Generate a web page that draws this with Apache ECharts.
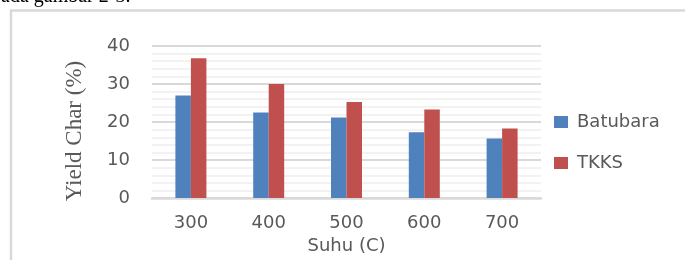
<!DOCTYPE html>
<html lang="id">
<head>
    <meta charset="UTF-8">
    <title>Yield Char</title>
    <script src="https://cdn.jsdelivr.net/npm/echarts@6/dist/echarts.min.js"></script>
    <style>
        html, body { margin: 0; padding: 0; background: #fff; }
        #chart { width: 685px; height: 260px; }
    </style>
</head>
<body>
    <div id="chart"></div>
    <script>
        // data
        var suhu = ['300', '400', '500', '600', '700'];
        var batubara = [27.0, 22.5, 21.2, 17.3, 15.7];
        var tkks = [36.8, 30.0, 25.3, 23.3, 18.3];

        var chart = echarts.init(document.getElementById('chart'));
        var gray = '#595959';
        var font = 'DejaVu Sans';

        var option = {
            animation: false,
            // frame and clipped caption above the figure
            graphic: [
                {
                    type: 'rect',
                    shape: { x: 11, y: 10.5, width: 720, height: 300 },
                    style: { fill: 'none', stroke: '#d9d9d9', lineWidth: 2.5 }
                },
                {
                    type: 'text',
                    x: -9, y: 7,
                    style: {
                        text: 'pada gambar 2-3.',
                        font: '20px "Liberation Serif"',
                        fill: '#000',
                        textVerticalAlign: 'bottom'
                    }
                },
                {
                    type: 'text',
                    x: 75, y: 131,
                    rotation: Math.PI / 2,
                    style: {
                        text: 'Yield Char (%)',
                        font: '23px "Liberation Serif"',
                        fill: gray,
                        textAlign: 'center',
                        textVerticalAlign: 'middle'
                    }
                }
            ],
            grid: { left: 152, right: 144, top: 46, bottom: 61 },
            legend: {
                orient: 'vertical',
                left: 549,
                top: 108,
                itemWidth: 14,
                itemHeight: 12,
                itemGap: 23,
                icon: 'rect',
                textStyle: { fontFamily: font, fontSize: 18, color: gray, lineHeight: 18, padding: [0, 0, 0, 4] },
                data: ['Batubara', 'TKKS']
            },
            xAxis: {
                type: 'category',
                data: suhu,
                name: 'Suhu (C)',
                nameLocation: 'middle',
                nameGap: 29,
                nameTextStyle: { fontFamily: font, fontSize: 18, color: gray },
                axisLine: { lineStyle: { color: '#d9d9d9', width: 2.5 } },
                axisTick: { show: false },
                axisLabel: { fontFamily: font, fontSize: 18, color: gray, margin: 16 }
            },
            yAxis: {
                type: 'value',
                min: 0,
                max: 40,
                interval: 10,
                axisLine: { show: false },
                axisTick: { show: false },
                axisLabel: { fontFamily: font, fontSize: 18, color: gray, margin: 22 },
                splitLine: { lineStyle: { color: '#d9d9d9', width: 2 } },
                minorTick: { show: false, splitNumber: 5 },
                minorSplitLine: { show: true, lineStyle: { color: '#f2f2f2', width: 2 } }
            },
            series: [
                {
                    name: 'Batubara',
                    type: 'bar',
                    data: batubara,
                    barWidth: 15.5,
                    barGap: '0%',
                    itemStyle: { color: '#4f81bd' }
                },
                {
                    name: 'TKKS',
                    type: 'bar',
                    data: tkks,
                    barWidth: 15.5,
                    itemStyle: { color: '#c0504d' }
                }
            ]
        };

        chart.setOption(option);
    </script>
</body>
</html>
